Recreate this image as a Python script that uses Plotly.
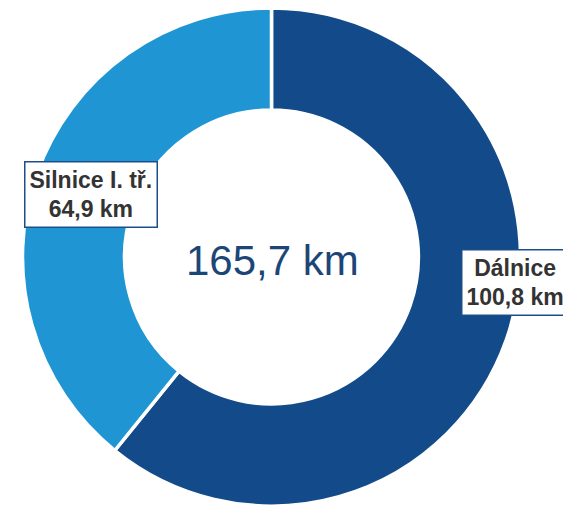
import plotly.graph_objects as go

categories = ["Dálnice", "Silnice I. tř."]
values = [100.8, 64.9]
value_labels = ["100,8 km", "64,9 km"]
total_label = "165,7 km"
colors = ["#134b8a", "#1f95d4"]

W, H = 563, 506


def px(x):
    return x / W


def py(y):
    return 1 - y / H


fig = go.Figure(go.Pie(
    labels=categories,
    values=values,
    hole=0.59,
    sort=False,
    direction="clockwise",
    rotation=0,
    marker=dict(colors=colors, line=dict(color="white", width=3.5)),
    textinfo="none",
    hoverinfo="label+value",
    domain=dict(x=[px(21), px(522)], y=[0, py(8)]),
    showlegend=False,
))

label_pos = {
    "Dálnice": (px(514.5), py(282.5)),
    "Silnice I. tř.": (px(90.5), py(194)),
}
for cat, vl in zip(categories, value_labels):
    x, y = label_pos[cat]
    fig.add_annotation(
        x=x, y=y, xref="paper", yref="paper",
        xanchor="center", yanchor="middle",
        text=f"<b>{cat}<br>{vl}</b>",
        showarrow=False,
        font=dict(family="Liberation Sans, Arial", size=23, color="#333333"),
        bgcolor="white",
        bordercolor="#1d4e89",
        borderwidth=1.5,
        borderpad=4,
    )

fig.add_annotation(
    x=px(272), y=py(260), xref="paper", yref="paper",
    xanchor="center", yanchor="middle",
    text=total_label, showarrow=False,
    font=dict(family="Liberation Sans, Arial", size=42, color="#1c4677"),
)

fig.update_layout(
    width=W, height=H,
    margin=dict(l=0, r=0, t=0, b=0),
    paper_bgcolor="white",
    plot_bgcolor="white",
)

fig.write_html(
    "out.html",
    config={"displayModeBar": False},
    post_script="document.body.style.margin='0';document.body.style.overflow='hidden';",
)
